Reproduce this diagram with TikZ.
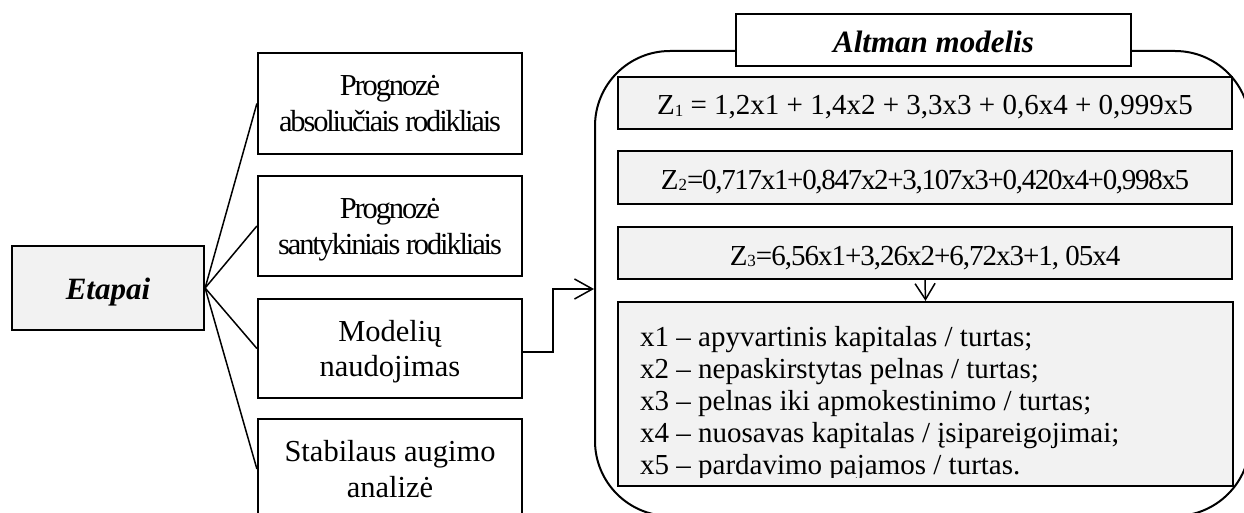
\documentclass[tikz,border=0pt]{standalone}
\usepackage{fontspec}
\setmainfont{Liberation Serif}
\newfontfamily\tightA[LetterSpace=-7]{Liberation Serif}
\newfontfamily\tightB[LetterSpace=-4.5]{Liberation Serif}
\newfontfamily\tightC[LetterSpace=-3.5]{Liberation Serif}
\usetikzlibrary{arrows.meta}
\definecolor{panel}{HTML}{F2F2F2}
% small index digit sitting on the baseline
\newcommand\zidx[1]{\raisebox{-1.5pt}{\fontsize{17}{17}\selectfont #1}}
\tikzset{
  stage/.style={draw, line width=2.2pt, fill=white, inner sep=0pt,
    minimum width=264pt, align=center, text height=56pt, text depth=0pt,
    font=\fontsize{30.5}{35.5}\selectfont},
  hub/.style={draw, line width=2.2pt, fill=panel, inner sep=0pt,
    minimum width=192pt, minimum height=84pt, text height=22pt, text depth=0pt,
    font=\fontsize{31}{36}\selectfont\bfseries\itshape},
  title/.style={draw, line width=2.2pt, fill=white, inner sep=0pt,
    minimum width=395pt, minimum height=52pt, text height=26pt, text depth=0pt,
    font=\fontsize{31}{36}\selectfont\bfseries\itshape},
  formula/.style={draw, line width=2.2pt, fill=panel, inner sep=0pt,
    minimum width=614pt, minimum height=52pt, text height=24pt, text depth=0pt,
    font=\fontsize{29}{33}\selectfont},
  listbox/.style={draw, line width=2.2pt, fill=panel, inner sep=0pt,
    minimum width=615pt, minimum height=184pt},
  frame/.style={draw, line width=2pt, rounded corners=75pt, inner sep=0pt},
  link/.style={line width=1.5pt},
  tip/.style={-{Straight Barb[length=#1,width=20pt]}}
}
\begin{document}
\begin{tikzpicture}[x=1pt,y=-1pt]
\useasboundingbox (0,0) rectangle (1244,513);
\clip (0,0) rectangle (1244,513);

% left part: stages
\node[hub] (etapai) at (108,288) {Etapai};
\node[stage, minimum height=101pt] (p1) at (390,103.5)
  {\tightA Prognozė\\\tightA absoliučiais rodikliais};
\node[stage, minimum height=100pt] (p2) at (390,226)
  {\tightA Prognozė\\\tightA santykiniais rodikliais};
\node[stage, minimum height=99pt] (p3) at (390,348.5)
  {Modelių\\naudojimas};
\node[stage, minimum height=100pt] (p4) at (390,469)
  {Stabilaus augimo\\analizė};

\foreach \b in {p1,p2,p3,p4}
  \draw[link] (etapai.east) -- (\b.west);

% right part: the model frame
\node[frame, minimum width=655pt, minimum height=465pt] (frame) at (922.5,283.5) {};
\node[title] (altman) at (933.5,40) {Altman modelis};

\node[formula] (z1) at (925,103)
  {Z\zidx{1} = 1,2x1 + 1,4x2 + 3,3x3 + 0,6x4 + 0,999x5};
\node[formula, minimum height=53pt] (z2) at (925,177.5)
  {\tightB Z\zidx{2}=0,717x1+0,847x2+3,107x3+0,420x4+0,998x5};
\node[formula] (z3) at (925,253)
  {\tightC Z\zidx{3}=6,56x1+3,26x2+6,72x3+1, 05x4};

\node[listbox] (vars) at (925.5,394) {};
\begin{scope}
  \clip (vars.north west) rectangle ([yshift=10pt]vars.south east);
  \node[anchor=base west, inner sep=0pt, align=left,
    font=\fontsize{29}{32}\selectfont] (varstext) at (640,474)
    {x1 – apyvartinis kapitalas / turtas;\\
     x2 – nepaskirstytas pelnas / turtas;\\
     x3 – pelnas iki apmokestinimo / turtas;\\
     x4 – nuosavas kapitalas / įsipareigojimai;\\
     x5 – pardavimo pajamos / turtas.};
\end{scope}

% connectors
\draw[link, tip=18pt] ([yshift=-3.5pt]p3.east) -- ++(30,0) |- ([yshift=-5.5pt]frame.west);
\draw[link, tip=16pt] (z3.south) -- (vars.north);
\end{tikzpicture}
\end{document}
